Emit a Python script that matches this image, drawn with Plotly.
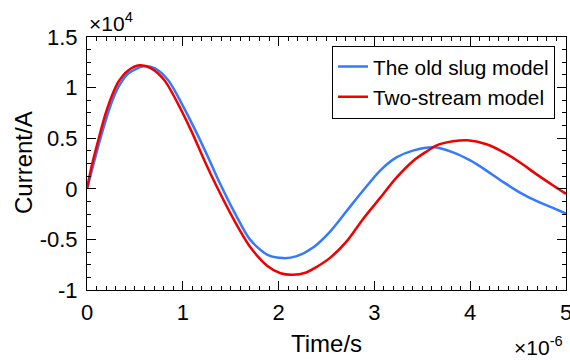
import plotly.graph_objects as go

# Time in microseconds, current in units of 1e4 A
slug_t_us = [0, 0.05, 0.12, 0.19, 0.26, 0.33, 0.43, 0.59, 0.71, 0.85, 0.99, 1.13, 1.27, 1.38,
             1.56, 1.70, 1.88, 2.05, 2.19, 2.36, 2.54, 2.71, 2.88, 3.06, 3.23, 3.41, 3.63,
             3.82, 4.0, 4.17, 4.35, 4.52, 4.69, 4.87, 5.0]
slug_i = [0, 0.18, 0.43, 0.66, 0.86, 1.01, 1.14, 1.21, 1.19, 1.07, 0.84, 0.58, 0.30, 0.07,
          -0.27, -0.50, -0.65, -0.685, -0.665, -0.58, -0.42, -0.22, -0.02, 0.18, 0.31, 0.38, 0.41,
          0.36, 0.28, 0.18, 0.063, -0.037, -0.12, -0.19, -0.245]

two_t_us = [0, 0.05, 0.12, 0.19, 0.26, 0.33, 0.43, 0.55, 0.67, 0.81, 0.95, 1.09, 1.23, 1.35,
            1.53, 1.70, 1.88, 2.02, 2.15, 2.28, 2.40, 2.54, 2.71, 2.88, 3.06, 3.23, 3.41, 3.53,
            3.65, 3.82, 3.97, 4.17, 4.35, 4.52, 4.69, 4.87, 5.0]
two_i = [0, 0.23, 0.49, 0.73, 0.92, 1.06, 1.17, 1.22, 1.19, 1.07, 0.84, 0.57, 0.27, 0.03,
         -0.30, -0.57, -0.76, -0.835, -0.85, -0.83, -0.77, -0.68, -0.52, -0.30, -0.09, 0.11,
         0.28, 0.36, 0.43, 0.47, 0.48, 0.44, 0.36, 0.26, 0.145, 0.03, -0.05]

x_ticks = [0, 1, 2, 3, 4, 5]
y_ticks = [-1, -0.5, 0, 0.5, 1, 1.5]
x_tick_labels = ["0", "1", "2", "3", "4", "5"]
y_tick_labels = ["-1", "-0.5", "0", "0.5", "1", "1.5"]

names = ["The old slug model", "Two-stream model"]
colors = ["rgb(51,122,255)", "rgb(240,0,0)"]

fig = go.Figure()
for t_us, cur, nm, col in [(slug_t_us, slug_i, names[0], colors[0]),
                           (two_t_us, two_i, names[1], colors[1])]:
    fig.add_trace(go.Scatter(
        x=[v / 1e6 for v in t_us], y=[v * 1e4 for v in cur], name=nm, mode="lines",
        line=dict(color=col, width=2.5, shape="spline", smoothing=0.8)))

font = "Liberation Sans, Arial, sans-serif"
fig.update_layout(
    width=570, height=360,
    margin=dict(l=87, r=4, t=37, b=70, autoexpand=False),
    paper_bgcolor="white", plot_bgcolor="white",
    font=dict(family=font, size=22, color="black"),
    showlegend=True,
    legend=dict(x=0.977, y=0.966, xanchor="right", yanchor="top",
                bgcolor="white", bordercolor="black", borderwidth=1,
                font=dict(size=20.8), tracegroupgap=0, itemwidth=30),
    xaxis=dict(range=[0, 5e-6], tickvals=[v / 1e6 for v in x_ticks], ticktext=x_tick_labels,
               ticks="inside", ticklen=9, tickwidth=1, tickcolor="black",
               showline=True, linecolor="black", linewidth=1, mirror="ticks",
               showgrid=False, zeroline=False, automargin=False,
               ticklabeloverflow="allow",
               minor=dict(dtick=1e-7, ticks="inside", ticklen=4, tickcolor="black", showgrid=False),
               ticklabelstandoff=3, tickfont=dict(size=22)),
    yaxis=dict(range=[-1e4, 1.5e4], tickvals=[v * 1e4 for v in y_ticks], ticktext=y_tick_labels,
               ticks="inside", ticklen=9, tickwidth=1, tickcolor="black",
               showline=True, linecolor="black", linewidth=1, mirror="ticks",
               showgrid=False, zeroline=False, automargin=False,
               ticklabeloverflow="allow",
               minor=dict(dtick=1250, ticks="inside", ticklen=4, tickcolor="black", showgrid=False),
               ticklabelstandoff=4, tickfont=dict(size=22)),
    annotations=[
        dict(text="Time/s", xref="paper", yref="paper", x=0.5, y=-0.2134,
             xanchor="center", yanchor="middle", showarrow=False, font=dict(size=24)),
        dict(text="Current/A", xref="paper", yref="paper", x=-0.1315, y=0.502,
             xanchor="center", yanchor="middle", showarrow=False, font=dict(size=24),
             textangle=-90),
        dict(text="×10<sup>4</sup>", xref="paper", yref="paper", x=0, y=1,
             xanchor="left", yanchor="bottom", showarrow=False, font=dict(size=21)),
        dict(text="×10<sup>-6</sup>", xref="paper", yref="paper", x=0.998, y=-0.2806,
             xanchor="right", yanchor="bottom", showarrow=False, font=dict(size=21)),
    ],
)

fig.write_html("out.html", config={"displayModeBar": False},
               post_script="document.body.style.margin='0px';")
